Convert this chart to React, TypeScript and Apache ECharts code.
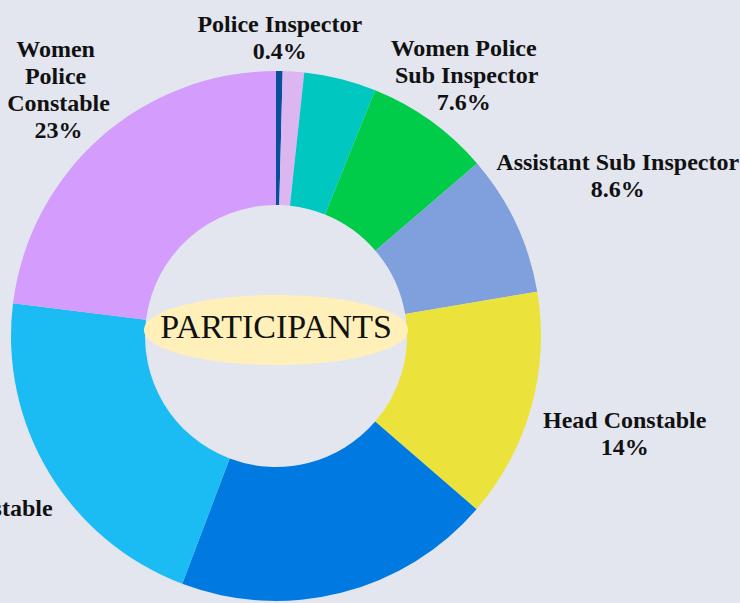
import React, { useEffect, useRef } from "react";
import * as echarts from "echarts";

const categories = [
  "Police Inspector",
  "Women Police Inspector",
  "Sub Inspector",
  "Women Police Sub Inspector",
  "Assistant Sub Inspector",
  "Head Constable",
  "Constable",
  "Police Constable",
  "Women Police Constable",
];
const shares = [0.4, 1.3, 4.4, 7.6, 8.6, 14, 19.4, 21.2, 23];
const sliceColors = [
  "#0a4f9a",
  "#dcb6f0",
  "#00c8c0",
  "#00cc4a",
  "#7fa0dc",
  "#ebe33c",
  "#0079e0",
  "#1bbbf3",
  "#d49cfd",
];
const hiddenLabels = [1, 2, 6];
const labelWidths: Record<number, number> = { 3: 150, 8: 115 };
const labelGaps: Record<number, number> = { 0: 7, 3: 2, 4: 2, 5: 18, 7: 21, 8: 8 };
const centerTitle = "PARTICIPANTS";

export default function App() {
  const ref = useRef<HTMLDivElement>(null);
  useEffect(() => {
    document.body.style.margin = "0";
    if (!ref.current) return;
    const chart = echarts.init(ref.current, undefined, { renderer: "svg" });
    const data = categories.map((name, i) => {
      const item: any = {
        name,
        value: shares[i],
        itemStyle: { color: sliceColors[i] },
      };
      if (hiddenLabels.includes(i)) {
        item.label = { show: false };
        item.labelLine = { show: false };
      } else if (labelWidths[i]) {
        item.label = { width: labelWidths[i], overflow: "break" };
      }
      return item;
    });
    chart.setOption({
      animation: false,
      backgroundColor: "#e3e6ef",
      graphic: [
        {
          type: "ellipse",
          shape: { cx: 276, cy: 330, rx: 132, ry: 35 },
          style: { fill: "#fff0b9" },
          z: 10,
        },
        {
          type: "text",
          x: 276,
          y: 326,
          z: 11,
          style: {
            text: centerTitle,
            fill: "#111",
            font: "normal 34px 'Liberation Serif', 'Times New Roman', serif",
            align: "center",
            verticalAlign: "middle",
          },
        },
      ],
      series: [
        {
          type: "pie",
          center: [276, 336],
          radius: [131, 265],
          startAngle: 90,
          clockwise: true,
          avoidLabelOverlap: false,
          emphasis: { disabled: true },
          label: {
            show: true,
            position: "outside",
            alignTo: "none",
            formatter: (p: any) => `${p.name}\n${Number(Number(p.value).toPrecision(2))}%`,
            fontFamily: "'Liberation Serif', 'Times New Roman', serif",
            fontWeight: "bold",
            fontSize: 24,
            lineHeight: 27,
            color: "#111",
            align: "center",
          },
          labelLine: {
            show: true,
            length: 10,
            length2: 0,
            lineStyle: { opacity: 0 },
          },
          labelLayout: (params: any) => {
            const pts = params.labelLinePoints;
            if (!pts || pts.length < 2) return {};
            const p0 = pts[0];
            const p1 = pts[1];
            const dx = p1[0] - p0[0];
            const dy = p1[1] - p0[1];
            const len = Math.hypot(dx, dy) || 1;
            const ux = dx / len;
            const uy = dy / len;
            const w = params.labelRect.width;
            const h = params.labelRect.height;
            const ext = Math.hypot((w / 2) * ux, (h / 2) * uy);
            const gap = labelGaps[params.dataIndex] ?? 7;
            return {
              x: p0[0] + ux * (gap + ext),
              y: p0[1] + uy * (gap + ext),
              align: "center",
              verticalAlign: "middle",
            };
          },
          data,
        },
      ],
    });
    return () => chart.dispose();
  }, []);
  return <div ref={ref} style={{ width: 740, height: 603 }} />;
}
